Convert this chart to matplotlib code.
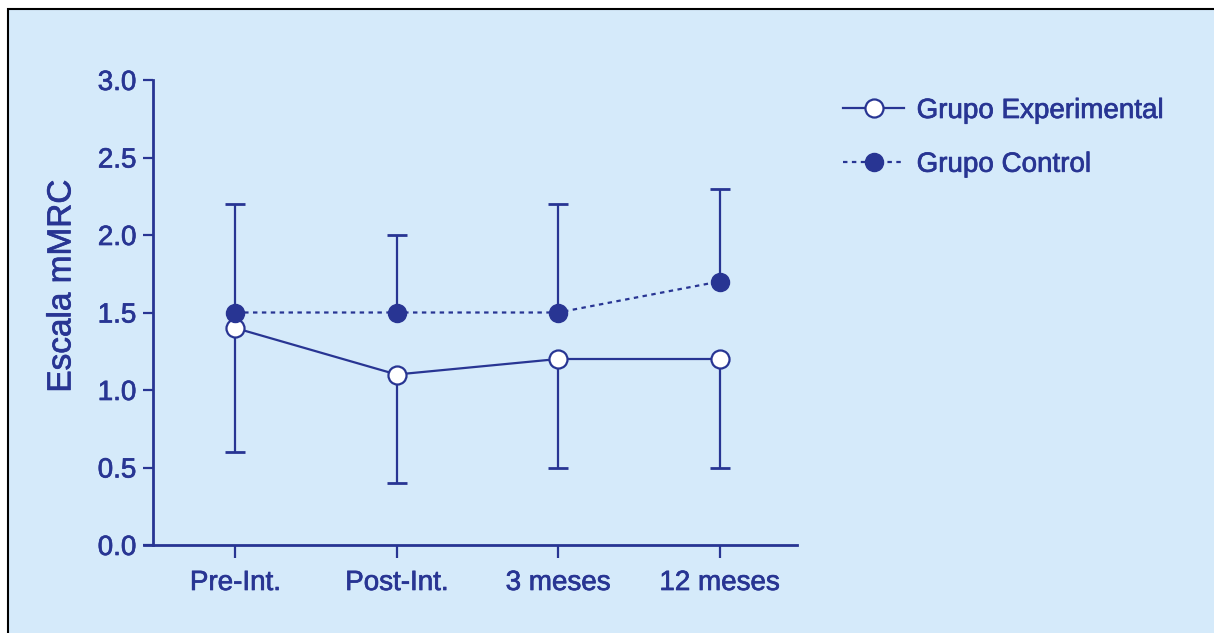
import matplotlib
matplotlib.use('Agg')
import matplotlib.pyplot as plt
import matplotlib.patheffects as pe
from matplotlib.patches import Rectangle

plt.rcParams['font.family'] = ['Liberation Sans', 'DejaVu Sans']

navy = '#283593'
panel = '#d5eafa'
heavy = [pe.withStroke(linewidth=0.5, foreground=navy)]

# Dyspnoea score (mMRC) by time point
timepoints = ['Pre-Int.', 'Post-Int.', '3 meses', '12 meses']
exp_mean = [1.4, 1.1, 1.2, 1.2]
exp_err_low = [0.8, 0.7, 0.7, 0.7]
ctrl_mean = [1.5, 1.5, 1.5, 1.7]
ctrl_err_high = [0.7, 0.5, 0.7, 0.6]
yticks = [0.0, 0.5, 1.0, 1.5, 2.0, 2.5, 3.0]

fig = plt.figure(figsize=(12.14, 6.33), dpi=100, facecolor='white')
fig.patches.append(Rectangle((8 / 1214, -0.1), 1.2, (633 - 9) / 633 + 0.1,
                             transform=fig.transFigure, facecolor=panel,
                             edgecolor='black', linewidth=1.5, zorder=-1))

ax = fig.add_axes([144 / 1214, (633 - 545) / 633, 653 / 1214, 465 / 633])
ax.set_facecolor('none')

x = list(range(len(timepoints)))

# one-sided error bars: experimental downward, control upward
exp_end = [m - e for m, e in zip(exp_mean, exp_err_low)]
ctrl_end = [m + e for m, e in zip(ctrl_mean, ctrl_err_high)]
ax.vlines(x, exp_end, exp_mean, color=navy, linewidth=1.6, zorder=2)
ax.vlines(x, ctrl_mean, ctrl_end, color=navy, linewidth=1.6, zorder=2)
ax.plot(x, exp_end, linestyle='none', marker='_', markersize=15,
        markeredgewidth=2, color=navy, zorder=2)
ax.plot(x, ctrl_end, linestyle='none', marker='_', markersize=15,
        markeredgewidth=2, color=navy, zorder=2)

ax.plot(x, exp_mean, color=navy, linewidth=1.6, marker='o', markersize=13,
        markerfacecolor='white', markeredgecolor=navy, markeredgewidth=1.6,
        label='Grupo Experimental', zorder=3)
ax.plot(x, ctrl_mean, color=navy, linewidth=1.6, linestyle=(0, (2, 2)),
        marker='o', markersize=13, markerfacecolor=navy, markeredgecolor=navy,
        label='Grupo Control', zorder=3)

ax.set_xlim(-0.565, 3.48)
ax.set_ylim(0, 3.0)
ax.set_xticks(x)
ax.set_xticklabels(timepoints)
ax.set_yticks(yticks)
ax.set_yticklabels([f'{v:.1f}' for v in yticks])

for s in ['top', 'right']:
    ax.spines[s].set_visible(False)
for s in ['left', 'bottom']:
    ax.spines[s].set_color(navy)
    ax.spines[s].set_linewidth(2)
ax.spines['left'].set_position(('axes', 9 / 653))
ax.spines['left'].set_bounds(0, 3.0)

ax.tick_params(axis='y', colors=navy, labelsize=20, length=7, width=1.6, pad=5)
ax.tick_params(axis='x', colors=navy, labelsize=20, length=9, width=1.6, pad=9)
for lab in ax.get_xticklabels() + ax.get_yticklabels():
    lab.set_path_effects(heavy)

ax.set_ylabel('Escala mMRC', color=navy, fontsize=24, path_effects=heavy)
ax.yaxis.set_label_coords(-0.102, 0.557)

leg = ax.legend(loc='upper left', bbox_to_anchor=(843 / 1214, 1 - 98 / 633),
                bbox_transform=fig.transFigure, frameon=False, fontsize=20,
                labelcolor=navy, handlelength=2.2, handletextpad=0.45,
                labelspacing=1.0, borderpad=0, borderaxespad=0)
for t in leg.get_texts():
    t.set_path_effects(heavy)

fig.savefig('out.png', dpi=100, facecolor=fig.get_facecolor())
